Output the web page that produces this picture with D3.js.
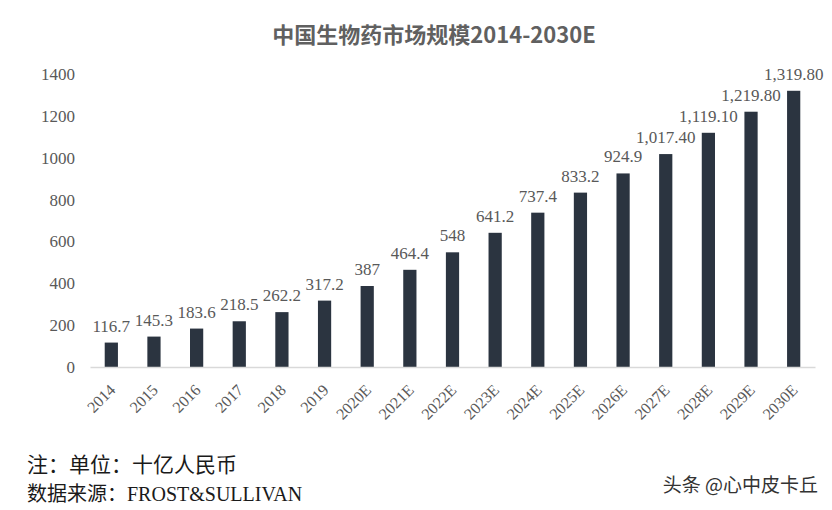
<!DOCTYPE html>
<html>
<head>
<meta charset="utf-8">
<script src="https://cdn.jsdelivr.net/npm/d3@7"></script>
<style>
body { margin: 0; background: #fff; }
text { font-family: "Liberation Serif", "Noto Sans CJK SC", serif; }
</style>
</head>
<body>
<script>
var years = ["2014","2015","2016","2017","2018","2019","2020E","2021E","2022E","2023E","2024E","2025E","2026E","2027E","2028E","2029E","2030E"]
var values = [116.7,145.3,183.6,218.5,262.2,317.2,387,464.4,548,641.2,737.4,833.2,924.9,1017.4,1119.1,1219.8,1319.8]
var labels = ["116.7","145.3","183.6","218.5","262.2","317.2","387","464.4","548","641.2","737.4","833.2","924.9","1,017.40","1,119.10","1,219.80","1,319.80"]
var yTicks = [0,200,400,600,800,1000,1200,1400]

var w = 832, h = 510,
margin = {top: 74, bottom: 143, left: 90, right: 17}

var svg = d3.select("body").append("svg").attr("width", w).attr("height", h)

var x = d3.scaleBand().domain(years)
          .range([margin.left, w - margin.right])
          .paddingInner(0.69).paddingOuter(0.345)

var y = d3.scaleLinear().domain([0, 1400])
          .range([h - margin.bottom, margin.top])

//title
svg.append("text").text("中国生物药市场规模2014-2030E")
.attr("x", w/2 + 18).attr("y", 43)
.attr("text-anchor", "middle")
.attr("font-size", 22).attr("font-weight", "bold")
.attr("fill", "#606060")
.style("font-family", "'Noto Sans CJK SC', 'Liberation Serif'")

//y labels (no axis line)
svg.selectAll(".ylab").data(yTicks).enter().append("text")
.attr("class", "ylab")
.text(function(d){return d})
.attr("x", 75).attr("y", function(d){return y(d)})
.attr("dy", "0.35em")
.attr("text-anchor", "end")
.attr("font-size", 17).attr("fill", "#595959")

//bars
svg.selectAll("rect").data(values).enter().append("rect")
.attr("x", function(d, i){return x(years[i])})
.attr("width", x.bandwidth())
.attr("y", function(d){return y(d)})
.attr("height", function(d){return y(0) - y(d)})
.attr("fill", "#2b3440")

//value labels
svg.selectAll(".vlab").data(values).enter().append("text")
.attr("class", "vlab")
.text(function(d, i){return labels[i]})
.attr("x", function(d, i){return x(years[i]) + x.bandwidth()/2})
.attr("y", function(d){return y(d) - 11})
.attr("text-anchor", "middle")
.attr("font-size", 17).attr("fill", "#595959")

//x axis
var xAxis = svg.append("g")
.attr("transform", `translate(0, ${y(0)})`)
.call(d3.axisBottom(x).tickSize(0).tickPadding(0))
xAxis.select(".domain").attr("stroke", "#d9d9d9").attr("stroke-width", 1.5)
xAxis.selectAll("text")
.attr("font-size", 16).attr("fill", "#595959")
.style("font-family", "'Liberation Serif'")
.attr("text-anchor", "end")
.attr("dy", 0).attr("y", 0)
.attr("transform", "translate(5, 24) rotate(-45)")

//footer
svg.append("text").text("注：单位：十亿人民币")
.attr("x", 27).attr("y", 472)
.attr("font-size", 21).attr("fill", "#1a1a1a")
svg.append("text").text("数据来源：FROST&SULLIVAN")
.attr("x", 27).attr("y", 501)
.attr("font-size", 20).attr("fill", "#1a1a1a")

svg.append("text").text("头条 @心中皮卡丘")
.attr("x", 818).attr("y", 492)
.attr("text-anchor", "end")
.attr("font-size", 19).attr("fill", "#333")
.style("font-family", "'Noto Sans CJK SC'")
</script>
</body>
</html>
